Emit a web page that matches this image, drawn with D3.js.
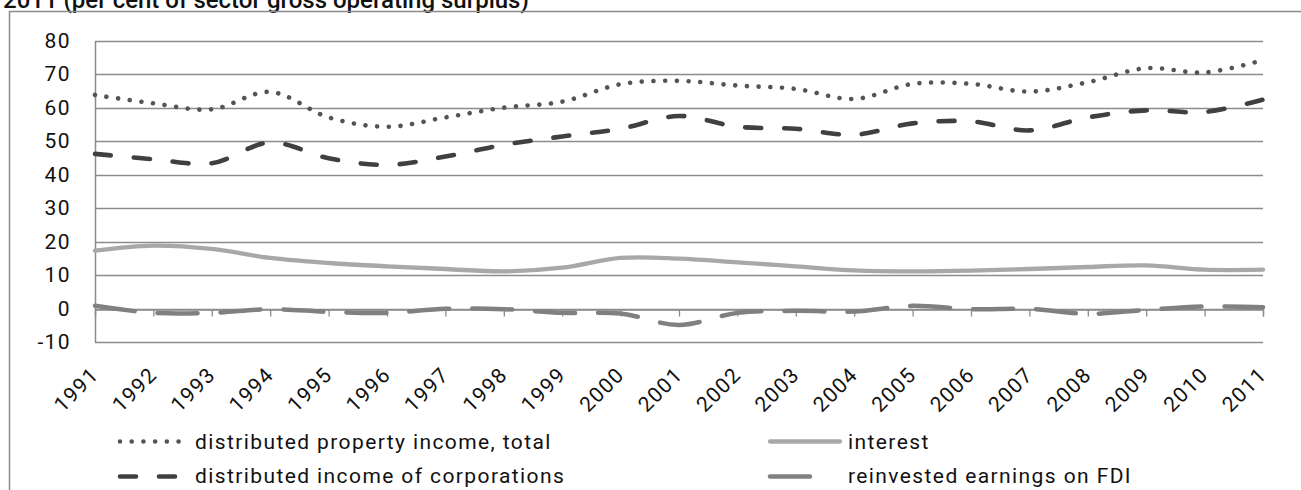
<!DOCTYPE html>
<html>
<head>
<meta charset="utf-8">
<script src="https://cdn.jsdelivr.net/npm/d3@7"></script>
<style>
  body { margin: 0; background: #fff; }
  svg { display: block; font-family: Roboto, "DejaVu Sans", sans-serif; }
</style>
</head>
<body>
<div id="chart"></div>
<script>
const years = ["1991", "1992", "1993", "1994", "1995", "1996", "1997", "1998", "1999", "2000",
  "2001", "2002", "2003", "2004", "2005", "2006", "2007", "2008", "2009", "2010", "2011"];

const propertyIncomeTotal = [63.8, 61.3, 59.5, 64.7, 57.1, 54.3, 57.1, 60.0, 61.8, 67.0,
  68.0, 66.6, 65.6, 62.6, 67.1, 67.1, 64.8, 67.6, 71.8, 70.5, 74.2];
const incomeOfCorporations = [46.2, 44.6, 43.4, 49.6, 44.9, 42.9, 45.4, 48.9, 51.4, 53.7,
  57.5, 54.3, 53.7, 51.9, 55.3, 55.9, 53.2, 57.1, 59.2, 58.7, 62.4];
const interest = [17.3, 18.8, 17.8, 15.1, 13.6, 12.6, 11.8, 11.1, 12.2, 15.1,
  14.9, 13.8, 12.6, 11.4, 11.1, 11.3, 11.8, 12.4, 12.9, 11.6, 11.6];
const reinvestedFDI = [0.8, -1.3, -1.3, -0.2, -1.0, -1.3, -0.1, -0.2, -1.3, -1.5,
  -4.9, -1.3, -0.7, -0.9, 0.8, -0.2, -0.1, -1.6, -0.4, 0.6, 0.4];

const yTicks = [-10, 0, 10, 20, 30, 40, 50, 60, 70, 80];
const yTickLabels = ["-10", "0", "10", "20", "30", "40", "50", "60", "70", "80"];

const titleText = "2011 (per cent of sector gross operating surplus)";

const seriesList = [
  { name: "distributed property income, total", values: propertyIncomeTotal,
    color: "#545454", width: 4.6, dash: "0.01 11.7", col: 0, row: 0 },
  { name: "interest", values: interest,
    color: "#a8a8a8", width: 4.3, dash: null, col: 1, row: 0 },
  { name: "distributed income of corporations", values: incomeOfCorporations,
    color: "#404040", width: 4.6, dash: "16 23", col: 0, row: 1 },
  { name: "reinvested earnings on FDI", values: reinvestedFDI,
    color: "#808080", width: 4.5, dash: "40 23", col: 1, row: 1 }
];

const W = 1301, H = 490;
const plot = { left: 95, right: 1263, top: 40.7, bottom: 342 };
const fontSize = "21px";
const spacing = "1.4px";

const svg = d3.select("#chart")
  .append("svg")
  .attr("width", W)
  .attr("height", H);

// title, cut off at the top like the source page
svg.append("text")
  .attr("x", 3)
  .attr("y", 8)
  .style("font-size", "24px")
  .style("font-weight", "500")
  .style("fill", "#111")
  .text(titleText);

// outer frame (left + top only visible)
svg.append("path")
  .attr("d", `M9.5,${H} V11.5 H${W}`)
  .attr("fill", "none")
  .attr("stroke", "#8a8a8a")
  .attr("stroke-width", 1.5);

const xScale = d3.scalePoint()
  .domain(years)
  .range([plot.left, plot.right]);

const yScale = d3.scaleLinear()
  .domain([-10, 80])
  .range([plot.bottom, plot.top]);

// gridlines
svg.append("g")
  .attr("class", "grid")
  .selectAll("line")
  .data(yTicks)
  .enter()
  .append("line")
  .attr("x1", plot.left)
  .attr("x2", plot.right)
  .attr("y1", (d) => Math.round(yScale(d)) + 0.5)
  .attr("y2", (d) => Math.round(yScale(d)) + 0.5)
  .attr("stroke", "#8c8c8c")
  .attr("stroke-width", 1.3);

// y axis labels
const yAxis = d3.axisLeft(yScale)
  .tickValues(yTicks)
  .tickSize(0)
  .tickPadding(24)
  .tickFormat((d, i) => yTickLabels[i]);

const yAxisG = svg.append("g")
  .attr("transform", `translate(${plot.left},0)`)
  .call(yAxis);
yAxisG.select(".domain")
  .attr("stroke", "#8c8c8c")
  .attr("stroke-width", 1.5);
yAxisG.selectAll("text")
  .style("font-size", fontSize)
  .style("letter-spacing", spacing)
  .style("fill", "#111")
  .style("font-family", "Roboto, sans-serif");

// category axis sits at zero
const xAxis = d3.axisBottom(xScale)
  .tickSize(7)
  .tickFormat("");

const xAxisG = svg.append("g")
  .attr("transform", `translate(0,${Math.round(yScale(0)) + 0.5})`)
  .call(xAxis);
xAxisG.select(".domain").attr("stroke", "#8c8c8c").attr("stroke-width", 1.3);
xAxisG.selectAll(".tick line").attr("stroke", "#8c8c8c").attr("stroke-width", 1.3);

// rotated year labels below the plot
svg.append("g")
  .selectAll("text")
  .data(years)
  .enter()
  .append("text")
  .attr("text-anchor", "end")
  .attr("transform", (d) => `translate(${xScale(d) + 5},376) rotate(-45)`)
  .style("font-size", fontSize)
  .style("letter-spacing", spacing)
  .style("fill", "#111")
  .text((d) => d);

// series
const line = d3.line()
  .x((d, i) => xScale(years[i]))
  .y((d) => yScale(d))
  .curve(d3.curveCatmullRom);

const drawOrder = [3, 1, 2, 0];
drawOrder.forEach((k) => {
  const s = seriesList[k];
  svg.append("path")
    .datum(s.values)
    .attr("d", line)
    .attr("fill", "none")
    .attr("stroke", s.color)
    .attr("stroke-width", s.width)
    .attr("stroke-linecap", "round")
    .attr("stroke-linejoin", "round")
    .attr("stroke-dasharray", s.dash);
});

// legend
const legendCols = [{ x1: 120, x2: 182, tx: 195 }, { x1: 770, x2: 833, tx: 848 }];
const legendRows = [{ ly: 441.5, ty: 448.5 }, { ly: 476.5, ty: 482.5 }];

seriesList.forEach((s) => {
  const c = legendCols[s.col];
  const r = legendRows[s.row];
  svg.append("line")
    .attr("x1", c.x1)
    .attr("x2", s.col === 1 && s.row === 0 ? 840 : c.x2)
    .attr("y1", r.ly)
    .attr("y2", r.ly)
    .attr("stroke", s.color)
    .attr("stroke-width", s.width)
    .attr("stroke-linecap", "round")
    .attr("stroke-dasharray", s.dash);
  svg.append("text")
    .attr("x", c.tx)
    .attr("y", r.ty)
    .style("font-size", fontSize)
    .style("letter-spacing", spacing)
    .style("fill", "#111")
    .text(s.name);
});
</script>
</body>
</html>
